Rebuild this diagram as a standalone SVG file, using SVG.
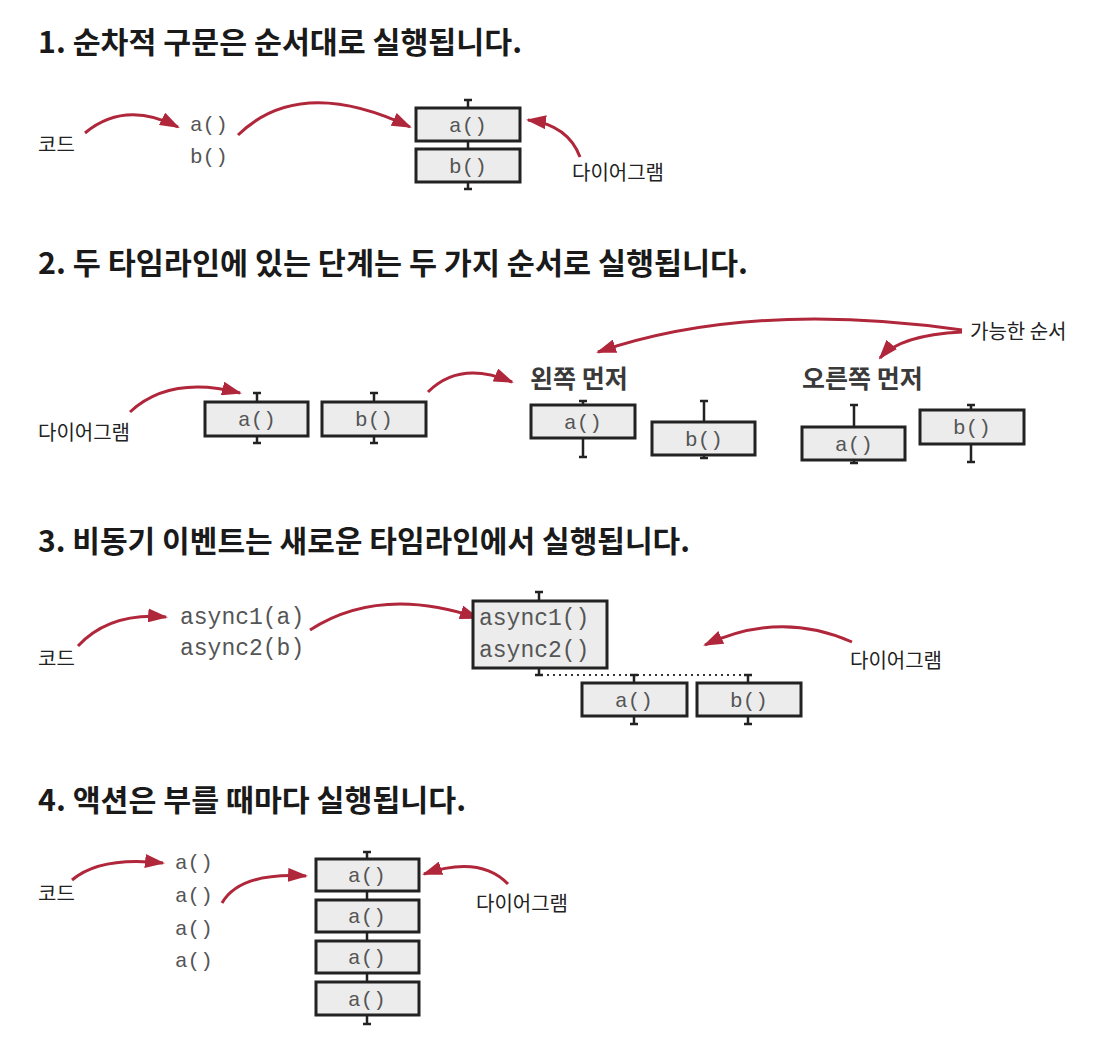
<svg xmlns="http://www.w3.org/2000/svg" width="1098" height="1064" viewBox="0 0 1098 1064">
<defs>
<style>
.title{font-family:"Noto Sans CJK KR","Noto Sans",sans-serif;font-weight:bold;font-size:29.5px;fill:#1a1a1a}
.lbl{font-family:"Noto Sans CJK KR","Noto Sans",sans-serif;font-size:20px;fill:#222}
.sub{font-family:"Noto Sans CJK KR","Noto Sans",sans-serif;font-weight:bold;font-size:25px;fill:#3a3a3a}
.code{font-family:"Liberation Mono","DejaVu Sans Mono",monospace;font-size:21px;fill:#555}
.code2{font-family:"Liberation Mono","DejaVu Sans Mono",monospace;font-size:23px;fill:#555}
.box{fill:#ececec;stroke:#222;stroke-width:3}
.tl{stroke:#222;stroke-width:2.5;fill:none}
.arr{fill:none;stroke:#b0263a;stroke-width:3;marker-end:url(#ah)}
.dot{stroke:#333;stroke-width:2;stroke-dasharray:2,4;fill:none}
</style>
<marker id="ah" viewBox="0 0 20 14" refX="18" refY="7" markerWidth="20" markerHeight="14" markerUnits="userSpaceOnUse" orient="auto">
<path d="M0,0 L20,7 L0,14 z" fill="#b0263a"/>
</marker>
</defs>
<rect width="1098" height="1064" fill="#fff"/>

<!-- titles -->
<g id="titles">
<text class="title" x="38" y="53" textLength="484" lengthAdjust="spacingAndGlyphs">1. 순차적 구문은 순서대로 실행됩니다.</text>
<text class="title" x="38" y="274" textLength="710" lengthAdjust="spacingAndGlyphs">2. 두 타임라인에 있는 단계는 두 가지 순서로 실행됩니다.</text>
<text class="title" x="38" y="552" textLength="652" lengthAdjust="spacingAndGlyphs">3. 비동기 이벤트는 새로운 타임라인에서 실행됩니다.</text>
<text class="title" x="38" y="811" textLength="428" lengthAdjust="spacingAndGlyphs">4. 액션은 부를 때마다 실행됩니다.</text>
</g>

<!-- connectors -->
<g id="connectors">
<path class="arr" d="M85,133 Q125,100 178,127"/>
<path class="arr" d="M238,135 Q300,75 410,127"/>
<path class="arr" d="M580,157 Q568,125 528,120"/>

<path class="arr" d="M130,412 Q170,375 240,393"/>
<path class="arr" d="M428,392 Q460,360 512,382"/>
<path class="arr" d="M962,330 Q750,300 598,352"/>
<path class="arr" d="M962,332 Q900,335 880,358"/>

<path class="arr" d="M78,646 Q110,612 166,617"/>
<path class="arr" d="M310,630 Q380,585 478,618"/>
<path class="arr" d="M852,642 Q780,610 705,645"/>

<path class="arr" d="M72,880 Q100,856 163,863"/>
<path class="arr" d="M222,903 Q240,872 306,876"/>
<path class="arr" d="M508,884 Q480,855 424,874"/>

<path class="dot" d="M541,675 H749"/>
</g>

<!-- section 1 -->
<g id="s1-code-label"><text class="lbl" x="38" y="152">코드</text></g>
<g id="s1-code">
<text class="code" x="190" y="131">a()</text>
<text class="code" x="190" y="163">b()</text>
</g>
<g id="s1-diagram-label"><text class="lbl" x="572" y="180">다이어그램</text></g>
<g id="s1-timeline">
<path class="tl" d="M468,100 V189 M464,100 H472 M464,189 H472"/>
<rect class="box" x="416" y="108" width="104" height="33"/>
<text class="code" x="468" y="132" text-anchor="middle">a()</text>
<rect class="box" x="416" y="149" width="104" height="33"/>
<text class="code" x="468" y="173" text-anchor="middle">b()</text>
</g>

<!-- section 2 -->
<g id="s2-diagram-label"><text class="lbl" x="38" y="440">다이어그램</text></g>
<g id="s2-timeline-a">
<path class="tl" d="M257,393 V443 M253,393 H261 M253,443 H261"/>
<rect class="box" x="205" y="402" width="103" height="34"/>
<text class="code" x="257" y="426" text-anchor="middle">a()</text>
</g>
<g id="s2-timeline-b">
<path class="tl" d="M374,393 V443 M370,393 H378 M370,443 H378"/>
<rect class="box" x="322" y="402" width="104" height="34"/>
<text class="code" x="374" y="426" text-anchor="middle">b()</text>
</g>
<g id="s2-possible-label"><text class="lbl" x="970" y="339">가능한 순서</text></g>
<g id="s2-left-first-label"><text class="sub" x="530" y="388">왼쪽 먼저</text></g>
<g id="s2-right-first-label"><text class="sub" x="802" y="388">오른쪽 먼저</text></g>
<g id="s2-left-a">
<path class="tl" d="M583,401 V457 M579,401 H587 M579,457 H587"/>
<rect class="box" x="531" y="405" width="104" height="33"/>
<text class="code" x="583" y="429" text-anchor="middle">a()</text>
</g>
<g id="s2-left-b">
<path class="tl" d="M704,401 V458 M700,401 H708 M700,458 H708"/>
<rect class="box" x="652" y="422" width="103" height="33"/>
<text class="code" x="704" y="446" text-anchor="middle">b()</text>
</g>
<g id="s2-right-a">
<path class="tl" d="M854,405 V463 M850,405 H858 M850,463 H858"/>
<rect class="box" x="802" y="427" width="103" height="33"/>
<text class="code" x="854" y="451" text-anchor="middle">a()</text>
</g>
<g id="s2-right-b">
<path class="tl" d="M971,405 V462 M967,405 H975 M967,462 H975"/>
<rect class="box" x="920" y="410" width="104" height="34"/>
<text class="code" x="972" y="434" text-anchor="middle">b()</text>
</g>

<!-- section 3 -->
<g id="s3-code-label"><text class="lbl" x="38" y="666">코드</text></g>
<g id="s3-code">
<text class="code2" x="180" y="624">async1(a)</text>
<text class="code2" x="180" y="655">async2(b)</text>
</g>
<g id="s3-diagram-label"><text class="lbl" x="850" y="668">다이어그램</text></g>
<g id="s3-main">
<path class="tl" d="M539,592 V675 M535,592 H543 M535,675 H543"/>
<rect class="box" x="473" y="601" width="134" height="67"/>
<text class="code2" x="479" y="625">async1()</text>
<text class="code2" x="479" y="657">async2()</text>
</g>
<g id="s3-a">
<path class="tl" d="M634,675 V724 M630,675 H638 M630,724 H638"/>
<rect class="box" x="582" y="683" width="105" height="33"/>
<text class="code" x="634" y="707" text-anchor="middle">a()</text>
</g>
<g id="s3-b">
<path class="tl" d="M748,675 V724 M744,675 H752 M744,724 H752"/>
<rect class="box" x="697" y="683" width="104" height="33"/>
<text class="code" x="749" y="707" text-anchor="middle">b()</text>
</g>

<!-- section 4 -->
<g id="s4-code-label"><text class="lbl" x="38" y="901">코드</text></g>
<g id="s4-code">
<text class="code" x="175" y="869">a()</text>
<text class="code" x="175" y="902">a()</text>
<text class="code" x="175" y="935">a()</text>
<text class="code" x="175" y="967">a()</text>
</g>
<g id="s4-diagram-label"><text class="lbl" x="476" y="911">다이어그램</text></g>
<g id="s4-timeline">
<path class="tl" d="M367,852 V1024 M363,852 H371 M363,1024 H371"/>
<rect class="box" x="316" y="859" width="103" height="32"/>
<text class="code" x="367" y="882" text-anchor="middle">a()</text>
<rect class="box" x="316" y="900" width="103" height="32"/>
<text class="code" x="367" y="923" text-anchor="middle">a()</text>
<rect class="box" x="316" y="941" width="103" height="32"/>
<text class="code" x="367" y="964" text-anchor="middle">a()</text>
<rect class="box" x="316" y="982" width="103" height="33"/>
<text class="code" x="367" y="1006" text-anchor="middle">a()</text>
</g>
</svg>
